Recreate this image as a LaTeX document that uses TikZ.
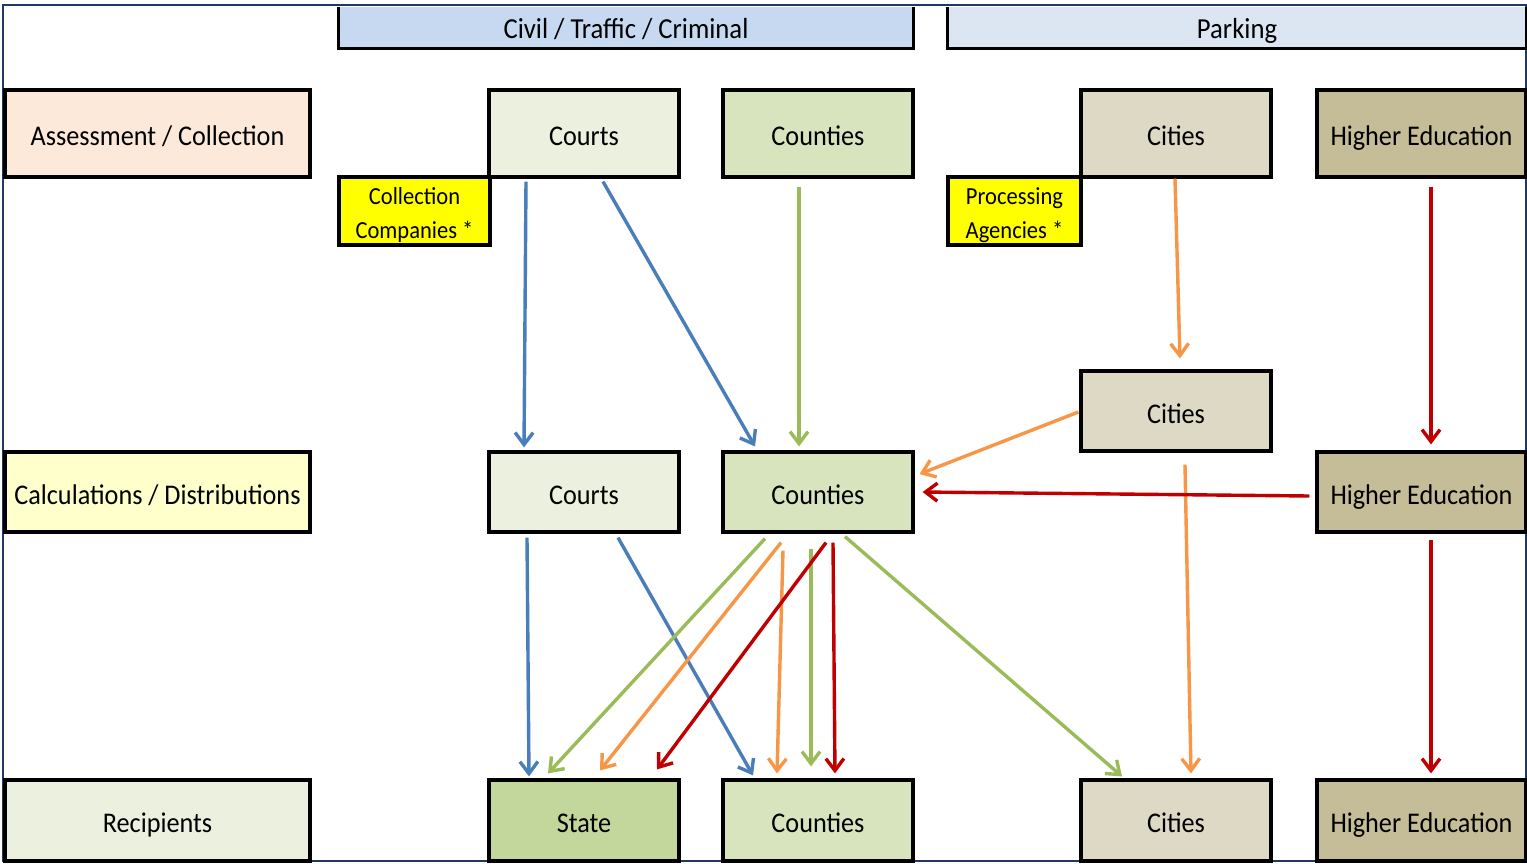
\documentclass[tikz,border=0pt]{standalone}
\usepackage{fontspec}
\setmainfont{Carlito}[FakeStretch=0.92]
\usetikzlibrary{arrows.meta,calc}
\definecolor{frameblue}{HTML}{1F3864}
\definecolor{hdrA}{HTML}{C6D9F1}
\definecolor{hdrB}{HTML}{DCE6F2}
\definecolor{peach}{HTML}{FDE9D9}
\definecolor{lightyel}{HTML}{FFFFCC}
\definecolor{palegreen}{HTML}{EBF1DE}
\definecolor{cntgreen}{HTML}{D7E4BD}
\definecolor{statgreen}{HTML}{C3D69B}
\definecolor{citytan}{HTML}{DDD9C4}
\definecolor{hetan}{HTML}{C4BD97}
\definecolor{yel}{HTML}{FFFF00}
\definecolor{ablue}{HTML}{4A7EBB}
\definecolor{agreen}{HTML}{9BBB59}
\definecolor{aorange}{HTML}{F79646}
\definecolor{ared}{HTML}{C00000}
\begin{document}
\begin{tikzpicture}[x=1pt,y=-1pt,
  box/.style={draw=black, line width=3.2pt, inner sep=0pt, minimum height=80pt,
    font=\fontsize{28.5}{32}\selectfont, text=black, text height=25pt, text depth=1pt},
  lbl/.style={box, minimum width=305pt},
  mid/.style={box, minimum width=190pt},
  hebox/.style={box, minimum width=209pt, fill=hetan},
  yelbox/.style={draw=black, line width=3.2pt, inner sep=0pt, fill=yel, minimum height=68pt, align=center,
    font=\fontsize{24.5}{34}\selectfont, text height=55pt, text depth=1pt},
  hdr/.style={inner sep=0pt, minimum height=41pt, font=\fontsize{29}{32}\selectfont,
    text height=23pt, text depth=1pt},
  conn/.style={line width=3.4pt, -{Straight Barb[length=12pt,width=18pt,line width=3.4pt]}},
  bluearr/.style={conn, draw=ablue},
  greenarr/.style={conn, draw=agreen},
  orangearr/.style={conn, draw=aorange},
  redarr/.style={conn, draw=ared}
]
\useasboundingbox (0,0) rectangle (1527,863);
\fill[white] (0,0) rectangle (1527,863);
\draw[frameblue, line width=1.5pt] (3,5) rectangle (1526,861);

% headers
\node[hdr, fill=hdrA, minimum width=574pt] (h1) at (626,27.5) {Civil / Traffic / Criminal};
\node[hdr, fill=hdrB, minimum width=578pt] (h2) at (1237,27.5) {Parking};
\draw[line width=3.2pt] (h1.north west) -- (h1.south west) -- (h1.south east) -- (h1.north east);
\draw[line width=3.2pt] (h2.north west) -- (h2.south west) -- (h2.south east) -- (h2.north east);

% row labels
\node[lbl, fill=peach, minimum height=87pt] (la) at (157.5,133.5) {Assessment / Collection};
\node[lbl, fill=lightyel] (lc) at (157.5,492) {Calculations / Distributions};
\node[lbl, fill=palegreen, minimum height=81pt] (lr) at (157.5,820.5) {Recipients};

% row 1
\node[mid, fill=palegreen, minimum height=87pt] (courtsA) at (584,133.5) {Courts};
\node[mid, fill=cntgreen, minimum height=87pt] (countiesA) at (818,133.5) {Counties};
\node[mid, fill=citytan, minimum height=87pt] (citiesA) at (1176,133.5) {Cities};
\node[hebox, minimum height=87pt] (heA) at (1421.5,133.5) {Higher Education};
\node[yelbox, minimum width=151pt] (cc) at (414.5,211) {Collection\\Companies *};
\node[yelbox, minimum width=133pt] (pa) at (1014.5,211) {Processing\\Agencies *};

% row 1.5
\node[mid, fill=citytan] (citiesB) at (1176,411) {Cities};

% row 2
\node[mid, fill=palegreen] (courtsB) at (584,492) {Courts};
\node[mid, fill=cntgreen] (countiesB) at (818,492) {Counties};
\node[hebox] (heB) at (1421.5,492) {Higher Education};

% row 3
\node[mid, fill=statgreen, minimum height=81pt] (state) at (584,820.5) {State};
\node[mid, fill=cntgreen, minimum height=81pt] (countiesC) at (818,820.5) {Counties};
\node[mid, fill=citytan, minimum height=81pt] (citiesC) at (1176,820.5) {Cities};
\node[hebox, minimum height=81pt] (heC) at (1421.5,820.5) {Higher Education};

% blue
\draw[bluearr] ($(courtsA.south)+(-58,3)$) -- ($(courtsB.north)+(-60,-3)$);
\draw[bluearr] ($(courtsA.south)+(19,3)$) -- ($(countiesB.north)+(-63,-4)$);
\draw[bluearr] ($(courtsB.south)+(-57,4)$) -- ($(state.north)+(-55,-2)$);
\draw[bluearr] ($(courtsB.south)+(34,4)$) -- ($(countiesC.north)+(-65,-3)$);
% green
\draw[greenarr] ($(countiesA.south)+(-19,8)$) -- ($(countiesB.north)+(-19,-4)$);
\draw[greenarr] ($(countiesB.south)+(-53,5)$) -- ($(state.north)+(-36,-5)$);
\draw[greenarr] ($(countiesB.south)+(-7,15)$) -- ($(countiesC.north)+(-7,-12)$);
\draw[greenarr] ($(countiesB.south)+(27,3)$) -- ($(citiesC.north)+(-54,-2)$);
% orange
\draw[orangearr] ($(citiesA.south)+(-1,0)$) -- ($(citiesB.north)+(4,-11)$);
\draw[orangearr] ($(citiesB.west)+(-1,1)$) -- ($(countiesB.east)+(5,-18)$);
\draw[orangearr] ($(countiesB.south)+(-37,9)$) -- ($(state.north)+(16,-8)$);
\draw[orangearr] ($(countiesB.south)+(-35,17)$) -- ($(countiesC.north)+(-41,-5)$);
\draw[orangearr] ($(citiesB.south)+(9,12)$) -- ($(citiesC.north)+(15,-5)$);
% red
\draw[redarr] ($(heA.south)+(9.5,8)$) -- ($(heB.north)+(9.5,-6)$);
\draw[redarr] ($(heB.west)+(-6,4)$) -- ($(countiesB.east)+(8,0)$);
\draw[redarr] ($(countiesB.south)+(8,9)$) -- ($(state.north)+(73,-9)$);
\draw[redarr] ($(countiesB.south)+(15,9)$) -- ($(countiesC.north)+(17,-5)$);
\draw[redarr] ($(heB.south)+(9.5,6)$) -- ($(heC.north)+(9.5,-5)$);
\end{tikzpicture}
\end{document}
